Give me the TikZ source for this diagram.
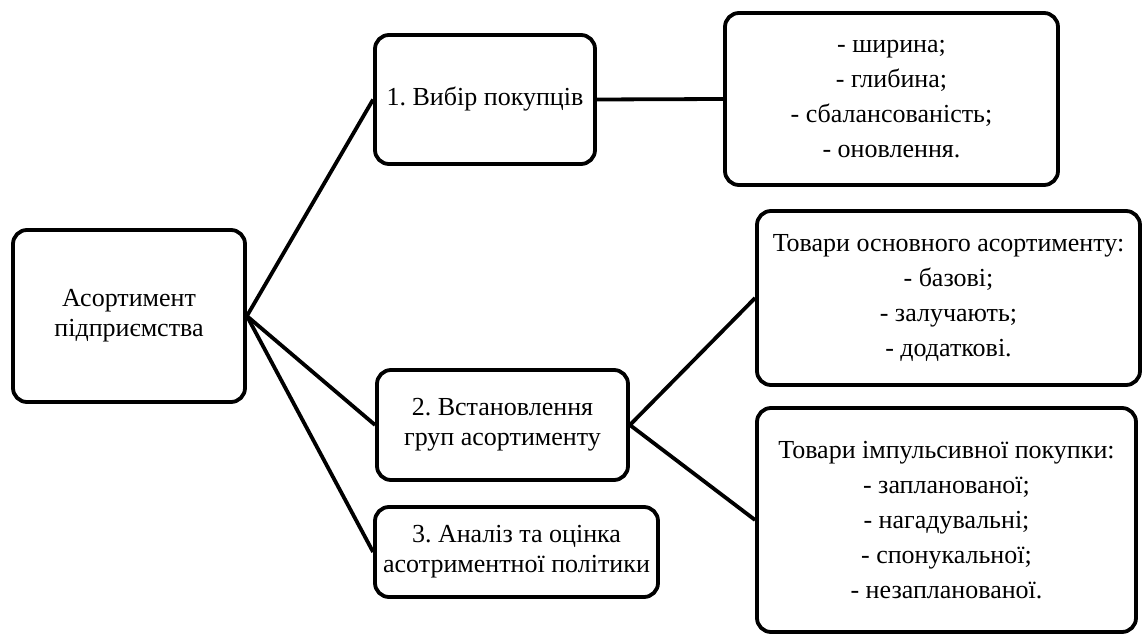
\documentclass[tikz,border=0pt]{standalone}
\usepackage{fontspec}
\setmainfont{Liberation Serif}
\frenchspacing
\begin{document}
\begin{tikzpicture}[x=0.5pt,y=-0.5pt,
	blk/.style={draw, line width=1.9pt, rounded corners=7pt, align=center, inner sep=2pt,
		font=\fontsize{13}{15}\selectfont},
	lst/.style={blk, font=\fontsize{13}{17.5}\selectfont},
	con/.style={line width=1.9pt}]
	\useasboundingbox (0,0) rectangle (1147,636);
	\node[blk, minimum width=116pt, minimum height=86pt] (v1) at (129,316) {Асортимент\\підприємства};
	\node[blk, minimum width=110pt, minimum height=64.5pt] (v2) at (485,99.5) {1. Вибір покупців};
	\node[lst, minimum width=166.5pt, minimum height=86pt] (v3) at (891.5,99) {- ширина;\\- глибина;\\- сбалансованість;\\- оновлення.};
	\node[blk, minimum width=125.5pt, minimum height=55pt] (v4) at (502.5,425) {2. Встановлення\\груп асортименту};
	\node[blk, minimum width=141.5pt, minimum height=45pt] (v5) at (516.5,552) {3. Аналіз та оцінка\\асотриментної політики};
	\node[lst, minimum width=191.5pt, minimum height=87pt] (v6) at (948.5,298) {Товари основного асортименту:\\- базові;\\- залучають;\\- додаткові.};
	\node[lst, minimum width=189.5pt, minimum height=112pt] (v7) at (946.5,520) {Товари імпульсивної покупки:\\- запланованої;\\- нагадувальні;\\- спонукальної;\\- незапланованої.};
	\draw[con] (v1.east) -- (v2.west);
	\draw[con] (v1.east) -- (v4.west);
	\draw[con] (v1.east) -- (v5.west);
	\draw[con] (v2.east) -- (v3.west);
	\draw[con] (v4.east) -- (v6.west);
	\draw[con] (v4.east) -- (v7.west);
\end{tikzpicture}
\end{document}
